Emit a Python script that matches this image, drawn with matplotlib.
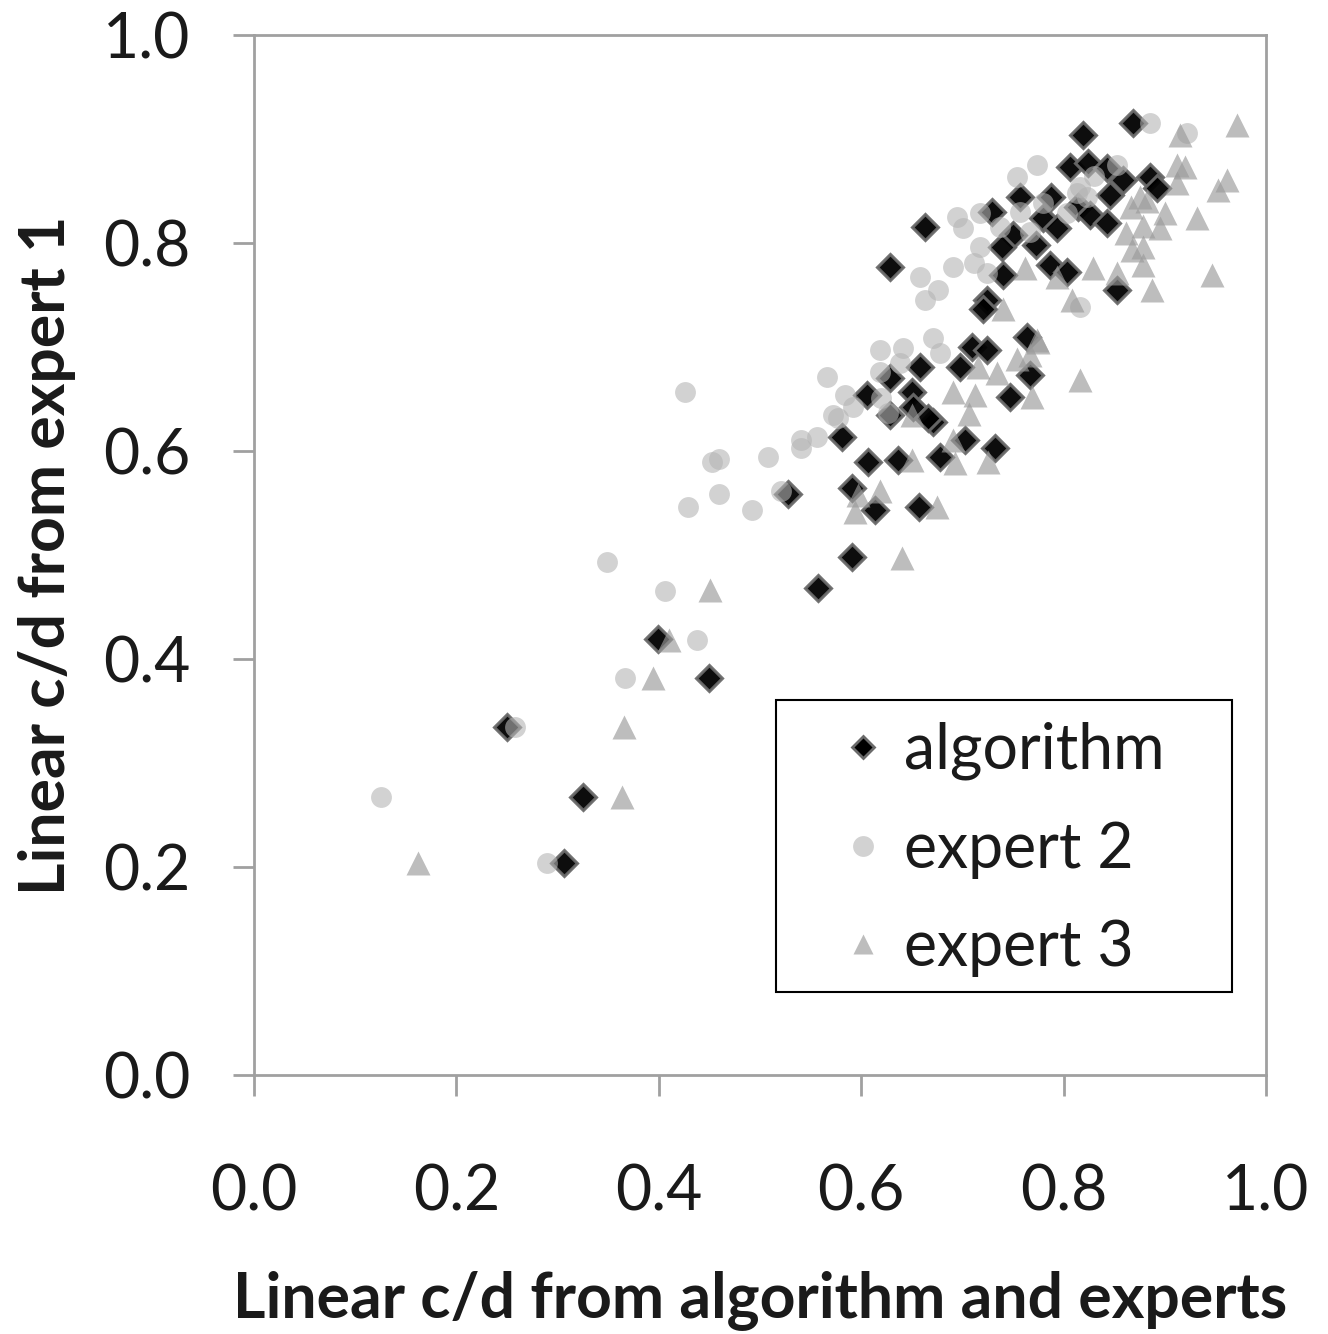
import matplotlib
matplotlib.use("Agg")
import matplotlib.pyplot as plt
from matplotlib.lines import Line2D
from matplotlib.patches import Rectangle

plt.rcParams['font.family'] = ['Lato', 'DejaVu Sans']

# algorithm (diamonds)
alg_x = [0.869, 0.819, 0.806, 0.824, 0.843, 0.859, 0.885, 0.892, 0.846, 0.757, 0.788,
         0.729, 0.663, 0.814, 0.826, 0.843, 0.780, 0.793, 0.750, 0.739, 0.773, 0.787,
         0.803, 0.740, 0.853, 0.724, 0.720, 0.764, 0.709, 0.724, 0.628, 0.698, 0.767,
         0.747, 0.671, 0.703, 0.732, 0.678, 0.658, 0.628, 0.650, 0.606, 0.628, 0.651,
         0.666, 0.581, 0.607, 0.636, 0.591, 0.528, 0.614, 0.657, 0.591, 0.557, 0.399,
         0.450, 0.250, 0.325, 0.306]
alg_y = [0.915, 0.904, 0.873, 0.877, 0.872, 0.861, 0.863, 0.853, 0.846, 0.844, 0.844,
         0.830, 0.815, 0.835, 0.827, 0.819, 0.824, 0.814, 0.808, 0.796, 0.798, 0.779,
         0.772, 0.769, 0.755, 0.745, 0.737, 0.710, 0.700, 0.697, 0.777, 0.681, 0.673,
         0.652, 0.628, 0.611, 0.603, 0.594, 0.681, 0.670, 0.657, 0.654, 0.635, 0.642,
         0.632, 0.613, 0.589, 0.591, 0.564, 0.559, 0.543, 0.546, 0.498, 0.468, 0.419,
         0.382, 0.335, 0.267, 0.204]

# expert 2 (circles)
e2_x = [0.349, 0.406, 0.438, 0.367, 0.258, 0.125, 0.290, 0.426, 0.453, 0.459, 0.508,
        0.459, 0.429, 0.492, 0.521, 0.541, 0.541, 0.556, 0.572, 0.577, 0.566, 0.584,
        0.592, 0.619, 0.641, 0.619, 0.638, 0.620, 0.626, 0.658, 0.663, 0.671, 0.885,
        0.922, 0.774, 0.754, 0.853, 0.830, 0.816, 0.813, 0.823, 0.695, 0.717, 0.701,
        0.737, 0.757, 0.780, 0.803, 0.717, 0.767, 0.691, 0.711, 0.724, 0.676, 0.816,
        0.678]
e2_y = [0.493, 0.465, 0.418, 0.382, 0.335, 0.267, 0.204, 0.657, 0.589, 0.592, 0.594,
        0.559, 0.546, 0.543, 0.562, 0.611, 0.603, 0.613, 0.635, 0.632, 0.671, 0.654,
        0.642, 0.697, 0.699, 0.676, 0.685, 0.651, 0.637, 0.767, 0.745, 0.709, 0.915,
        0.906, 0.875, 0.863, 0.875, 0.864, 0.854, 0.848, 0.844, 0.825, 0.829, 0.814,
        0.815, 0.830, 0.838, 0.829, 0.796, 0.811, 0.777, 0.781, 0.771, 0.755, 0.738,
        0.694]

# expert 3 (triangles)
e3_x = [0.971, 0.915, 0.912, 0.920, 0.961, 0.953, 0.912, 0.875, 0.867, 0.882, 0.900,
        0.932, 0.862, 0.878, 0.895, 0.868, 0.878, 0.878, 0.947, 0.887, 0.829, 0.853,
        0.808, 0.762, 0.740, 0.793, 0.774, 0.816, 0.691, 0.712, 0.769, 0.734, 0.725,
        0.693, 0.675, 0.707, 0.691, 0.775, 0.715, 0.767, 0.754, 0.650, 0.619, 0.597,
        0.594, 0.640, 0.451, 0.650, 0.410, 0.394, 0.366, 0.364, 0.162]
e3_y = [0.913, 0.904, 0.875, 0.873, 0.861, 0.851, 0.858, 0.844, 0.835, 0.840, 0.829,
        0.824, 0.810, 0.816, 0.814, 0.793, 0.796, 0.779, 0.769, 0.755, 0.776, 0.771,
        0.745, 0.776, 0.737, 0.767, 0.707, 0.668, 0.657, 0.654, 0.652, 0.675, 0.589,
        0.588, 0.546, 0.636, 0.611, 0.705, 0.681, 0.692, 0.688, 0.591, 0.562, 0.558,
        0.541, 0.497, 0.466, 0.635, 0.418, 0.382, 0.335, 0.267, 0.204]

ticks = [0.0, 0.2, 0.4, 0.6, 0.8, 1.0]
tick_labels = ["0.0", "0.2", "0.4", "0.6", "0.8", "1.0"]
series_names = ["algorithm", "expert 2", "expert 3"]

FS = 45

fig = plt.figure(figsize=(13.28, 13.34), dpi=100)
ax = fig.add_axes([254/1328, 1 - 1075/1334, (1266-254)/1328, (1075-35)/1334])

ax.plot(alg_x, alg_y, linestyle='none', marker='D', markersize=13,
        markerfacecolor='black', markeredgecolor='#6a6a6a', markeredgewidth=2.2,
        alpha=0.95, zorder=3)
ax.plot(e2_x, e2_y, linestyle='none', marker='o', markersize=15,
        markerfacecolor='#b4b4b4', markeredgecolor='none', alpha=0.6, zorder=4)
ax.plot(e3_x, e3_y, linestyle='none', marker='^', markersize=17,
        markerfacecolor='#9a9a9a', markeredgecolor='none', alpha=0.65, zorder=5)

ax.set_xlim(0, 1)
ax.set_ylim(0, 1)
ax.set_xticks(ticks)
ax.set_xticklabels(tick_labels)
ax.set_yticks(ticks)
ax.set_yticklabels(tick_labels)
for s in ax.spines.values():
    s.set_color('#a0a0a0')
    s.set_linewidth(2)
ax.tick_params(axis='both', direction='out', length=15, width=2, color='#a0a0a0',
               labelsize=FS, labelcolor='#1a1a1a')
ax.tick_params(axis='x', pad=49)
ax.tick_params(axis='y', pad=31)

ax.set_xlabel("Linear c/d from algorithm and experts", fontsize=FS, fontweight='bold',
              labelpad=35, color='#1a1a1a')
ax.set_ylabel("Linear c/d from expert 1", fontsize=FS, fontweight='bold',
              labelpad=19, color='#1a1a1a')

# legend frame
ax.add_patch(Rectangle((0.516, 0.080), 0.450, 0.281, transform=ax.transAxes,
                       facecolor='white', edgecolor='black', linewidth=1.5, zorder=8))

handles = [
    Line2D([], [], linestyle='none', marker='D', markersize=11, markerfacecolor='black',
           markeredgecolor='#6a6a6a', markeredgewidth=2),
    Line2D([], [], linestyle='none', marker='o', markersize=15, markerfacecolor='#d2d2d2',
           markeredgecolor='none'),
    Line2D([], [], linestyle='none', marker='^', markersize=15, markerfacecolor='#bdbdbd',
           markeredgecolor='none'),
]
leg = ax.legend(handles, series_names, loc='upper left',
                bbox_to_anchor=(0.577, 0.340), fontsize=FS, frameon=False,
                borderpad=0, borderaxespad=0, labelspacing=0.65,
                handletextpad=0.25, handlelength=0.8)
leg.set_zorder(9)
for t in leg.get_texts():
    t.set_color('#1a1a1a')

fig.savefig("out.png", dpi=100)
